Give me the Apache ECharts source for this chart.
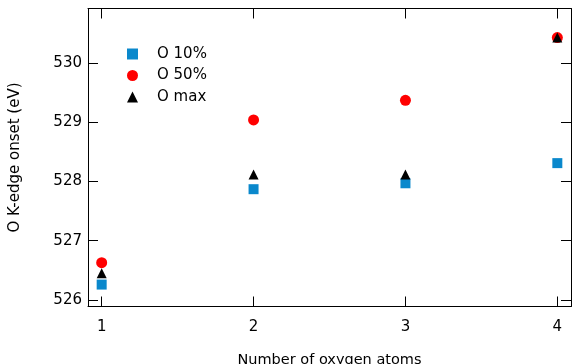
<!DOCTYPE html>
<html>
<head>
<meta charset="utf-8">
<script src="https://cdn.jsdelivr.net/npm/echarts@6/dist/echarts.min.js"></script>
<style>html,body{margin:0;padding:0;background:#fff}#c{width:572px;height:364px}</style>
</head>
<body>
<div id="c"></div>
<script>
var xValues = [1, 2, 3, 4];
var o10 = [526.26, 527.87, 527.97, 528.31];
var o50 = [526.63, 529.04, 529.37, 530.43];
var omax = [526.45, 528.12, 528.12, 530.43];
var seriesNames = ['O 10%', 'O 50%', 'O max'];
var xTicks = [1, 2, 3, 4];
var yTicks = [526, 527, 528, 529, 530];

function pairs(ys) { return xValues.map(function (x, i) { return [x, ys[i]]; }); }

var font = 'DejaVu Sans';
var chart = echarts.init(document.getElementById('c'), null, {renderer: 'canvas'});
var axisLine = {show: true, lineStyle: {color: '#000', width: 1}};
var tick = {show: true, inside: true, length: 10, lineStyle: {color: '#000', width: 1}};
chart.setOption({
  animation: false,
  backgroundColor: '#fff',
  grid: {left: 88, top: 8.5, right: 1, bottom: 57.5, containLabel: false, outerBoundsMode: 'none'},
  legend: {
    orient: 'vertical', left: 122, top: 41.5, itemWidth: 11, itemHeight: 11, itemGap: 6.5,
    textStyle: {fontFamily: font, fontSize: 15, color: '#000', padding: [0, 0, 0, 14]},
    data: [{name: seriesNames[0], icon: 'rect'}, {name: seriesNames[1], icon: 'circle'}, {name: seriesNames[2], icon: 'triangle'}]
  },
  xAxis: [{
    type: 'value', position: 'bottom', min: 0.91, max: 4.09,
    name: 'Number of oxygen atoms', nameLocation: 'middle', nameGap: 46,
    nameTextStyle: {fontFamily: font, fontSize: 14.5, color: '#000'},
    axisLine: axisLine, axisTick: Object.assign({customValues: xTicks}, tick),
    axisLabel: {customValues: xTicks, fontFamily: font, fontSize: 15, color: '#000', margin: 13},
    splitLine: {show: false}
  }, {
    type: 'value', position: 'top', min: 0.91, max: 4.09,
    axisLine: axisLine, axisTick: Object.assign({customValues: xTicks}, tick),
    axisLabel: {show: false}, splitLine: {show: false}
  }],
  yAxis: [{
    type: 'value', position: 'left', min: 525.89, max: 530.92,
    name: 'O K-edge onset (eV)', nameLocation: 'middle', nameGap: 65, nameRotate: 90,
    nameTextStyle: {fontFamily: font, fontSize: 15, color: '#000'},
    axisLine: axisLine, axisTick: Object.assign({customValues: yTicks}, tick),
    axisLabel: {customValues: yTicks, fontFamily: font, fontSize: 15, color: '#000', margin: 6},
    splitLine: {show: false}
  }, {
    type: 'value', position: 'right', min: 525.89, max: 530.92,
    axisLine: axisLine, axisTick: Object.assign({customValues: yTicks}, tick),
    axisLabel: {show: false}, splitLine: {show: false}
  }],
  series: [
    {name: seriesNames[0], type: 'scatter', symbol: 'rect', symbolSize: 10, itemStyle: {color: '#0A88CC', opacity: 1}, data: pairs(o10)},
    {name: seriesNames[1], type: 'scatter', symbol: 'circle', symbolSize: 11, itemStyle: {color: '#FF0000', opacity: 1}, data: pairs(o50)},
    {name: seriesNames[2], type: 'scatter', symbol: 'triangle', symbolSize: 10, itemStyle: {color: '#000', opacity: 1}, data: pairs(omax)}
  ]
});
</script>
</body>
</html>
